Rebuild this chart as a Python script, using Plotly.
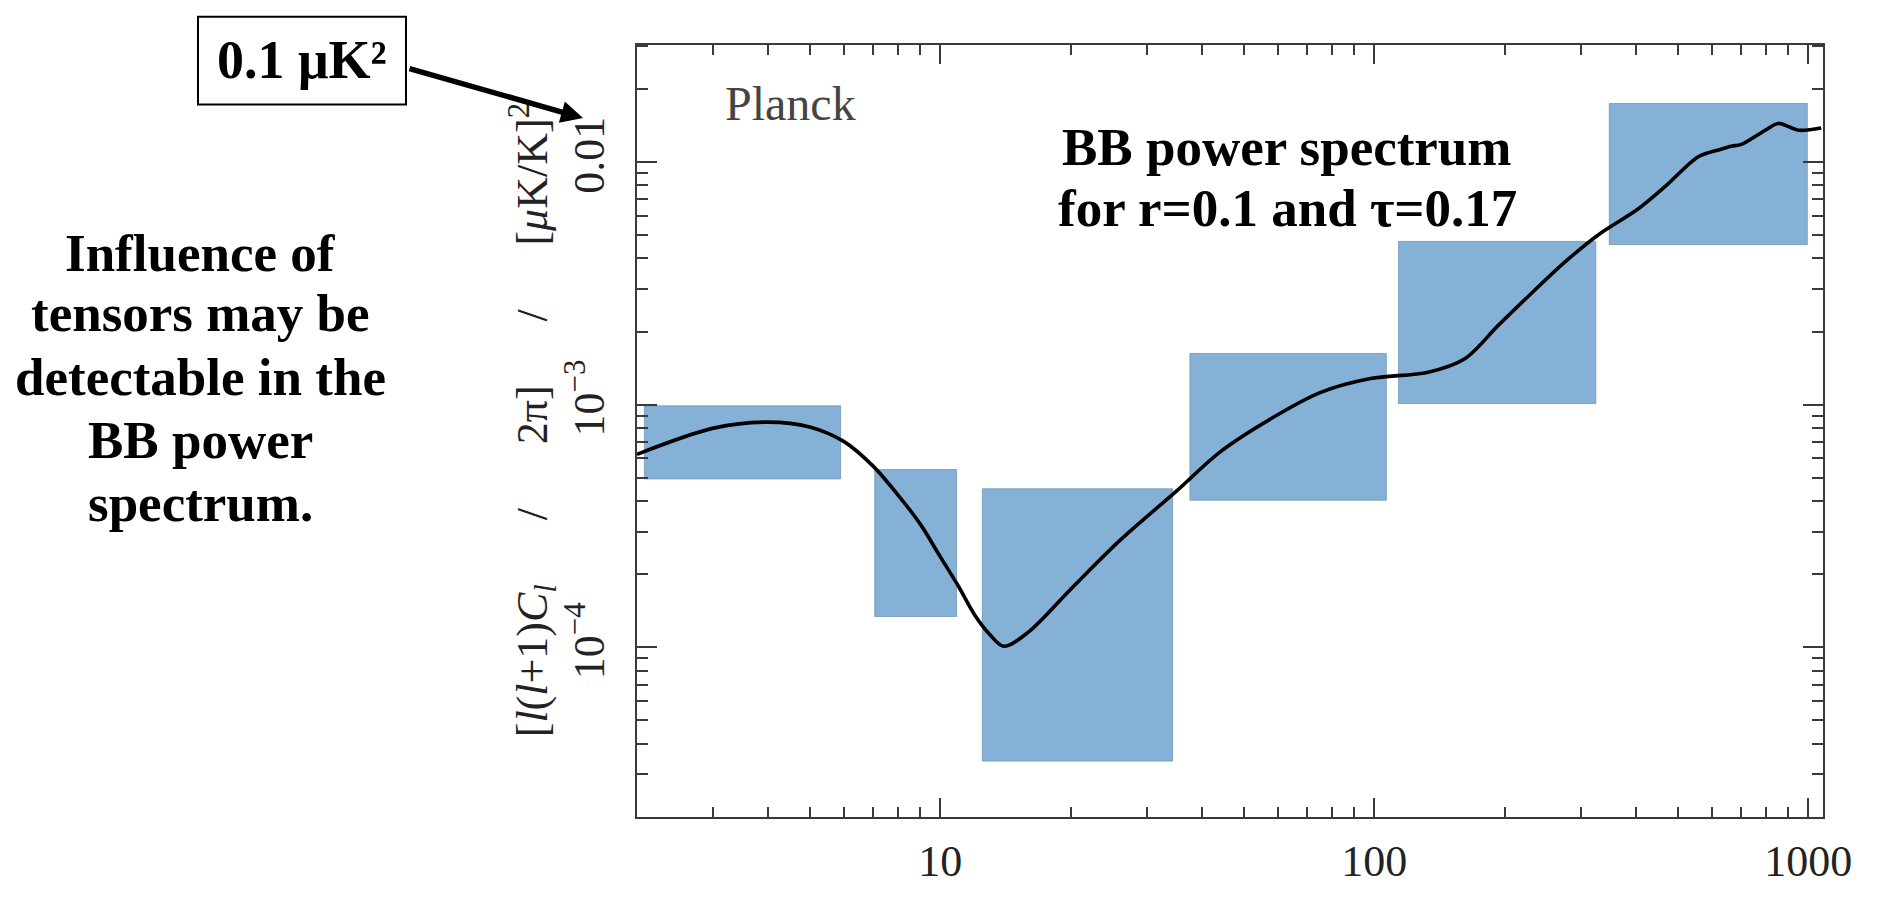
import numpy as np
import plotly.graph_objects as go

# Multipole moment and the BB spectrum l(l+1)C_l/2π in (μK/K)^2
ell = [2, 3, 4, 5, 6, 7, 8, 9, 10, 11, 12, 13, 14, 16, 20, 26, 35, 44, 58,
       75, 98, 133, 162, 193, 230, 276, 328, 406, 469, 558, 621, 665, 701,
       796, 853, 949, 1071]
bb_power = [6.24e-4, 8.0e-4, 8.47e-4, 8.09e-4, 7.04e-4, 5.58e-4, 4.23e-4,
            3.21e-4, 2.36e-4, 1.79e-4, 1.36e-4, 1.13e-4, 1.01e-4, 1.16e-4,
            1.74e-4, 2.77e-4, 4.40e-4, 6.36e-4, 8.78e-4, 1.12e-3, 1.28e-3,
            1.36e-3, 1.55e-3, 2.12e-3, 2.87e-3, 3.89e-3, 5.0e-3, 6.41e-3,
            7.94e-3, 1.05e-2, 1.12e-2, 1.16e-2, 1.18e-2, 1.35e-2, 1.44e-2,
            1.35e-2, 1.38e-2]

# Planck sensitivity bands: multipole bin edges and error box limits
bin_lo = [2.08, 7.06, 12.5, 37.6, 113.7, 348]
bin_hi = [5.89, 10.9, 34.3, 106.6, 324, 995]
band_lo = [4.94e-4, 1.34e-4, 3.4e-5, 4.04e-4, 1.01e-3, 4.56e-3]
band_hi = [9.88e-4, 5.4e-4, 4.5e-4, 1.624e-3, 4.7e-3, 1.74e-2]

# Axis ticks
x_major = [10, 100, 1000]
x_major_text = ["10", "100", "1000"]
y_major = [1e-4, 1e-3, 1e-2]
y_major_text = ["10<sup>\u22124</sup>", "10<sup>\u22123</sup>", "0.01"]

W, H = 1881, 898
L, R, T, B = 637, 58, 45, 61
PW, PH = W - L - R, H - T - B


def paper_x(px):
    return (px - L) / PW


def paper_y(py):
    return (H - B - py) / PH


SERIF = "Liberation Serif"
BOX_BLUE = "#85b1d6"
AXIS = "#3a3a3a"

fig = go.Figure()

for lo, hi, ylo, yhi in zip(bin_lo, bin_hi, band_lo, band_hi):
    fig.add_trace(go.Scatter(
        x=[lo, hi, hi, lo, lo], y=[ylo, ylo, yhi, yhi, ylo],
        mode="lines", fill="toself", fillcolor=BOX_BLUE,
        line=dict(color="rgba(115,150,180,0.8)", width=1),
        hoverinfo="skip", showlegend=False))

fig.add_trace(go.Scatter(
    x=ell, y=bb_power, mode="lines",
    line=dict(color="black", width=3.6, shape="spline", smoothing=0.9),
    showlegend=False))

x_minor = [m * 10 ** d for d in range(0, 3) for m in range(2, 10) if m * 10 ** d >= 3]
y_minor = [m * 10 ** d for d in range(-5, -1) for m in range(2, 10)]

fig.update_xaxes(
    type="log", range=[np.log10(2), 3.034],
    tickvals=x_major, ticktext=x_major_text,
    ticks="inside", ticklen=19, tickwidth=1.5, tickcolor=AXIS,
    showline=True, linecolor=AXIS, linewidth=1.5, mirror="allticks",
    showgrid=False, zeroline=False, ticklabelstandoff=4,
    tickfont=dict(family=SERIF, size=44, color="#222"),
    minor=dict(tickmode="array", tickvals=x_minor, ticks="inside",
               ticklen=10, tickwidth=1.5, tickcolor=AXIS, showgrid=False),
)
fig.update_yaxes(
    type="log", range=[np.log10(2e-5), np.log10(0.0303)],
    tickvals=y_major, ticktext=y_major_text, tickangle=-90,
    ticks="inside", ticklen=20, tickwidth=1.5, tickcolor=AXIS,
    showline=True, linecolor=AXIS, linewidth=1.5, mirror="allticks",
    showgrid=False, zeroline=False, ticklabelstandoff=14,
    tickfont=dict(family=SERIF, size=44, color="#222"),
    minor=dict(tickmode="array", tickvals=y_minor, ticks="inside",
               ticklen=11, tickwidth=1.5, tickcolor=AXIS, showgrid=False),
)

nb = "\u00a0"
gap = nb * 5 + "\u2009"
y_title = (f"[<i>l</i>(<i>l</i>+1)<i>C</i><sub><i>l</i></sub>{gap}/{gap}2π]"
           f"{gap}/{gap}[<i>μ</i>K/K]<sup>2</sup>")

annotations = [
    dict(text=y_title, x=paper_x(533), y=paper_y(430), textangle=-90,
         font=dict(family=SERIF, size=44, color="#222")),
    dict(text="Planck", x=paper_x(790), y=paper_y(105),
         font=dict(family=SERIF, size=48, color="#444")),
    dict(text="BB power spectrum", x=paper_x(1287), y=paper_y(150),
         font=dict(family=SERIF, size=53, color="black", weight="bold")),
    dict(text="for r=0.1 and τ=0.17", x=paper_x(1287), y=paper_y(212),
         font=dict(family=SERIF, size=53, color="black", weight="bold")),
    dict(text="0.1 μK²", x=paper_x(302), y=paper_y(60),
         font=dict(family=SERIF, size=54, color="black", weight="bold")),
    dict(text="", x=paper_x(583), y=paper_y(120), ax=408 - 583, ay=70 - 120,
         showarrow=True, arrowhead=2, arrowsize=0.8, arrowwidth=5.5,
         arrowcolor="black", standoff=0, startstandoff=0),
]

left_lines = ["Influence of", "tensors may be", "detectable in the",
              "BB power", "spectrum."]
for line, cy in zip(left_lines, [258, 320, 386, 450, 515]):
    annotations.append(dict(text=line, x=paper_x(200), y=paper_y(cy),
                            font=dict(family=SERIF, size=53, color="black",
                                      weight="bold")))

for a in annotations:
    a.setdefault("showarrow", False)
    a.update(xref="paper", yref="paper", xanchor="center", yanchor="middle")

fig.update_layout(
    width=W, height=H,
    margin=dict(l=L, r=R, t=T, b=B, pad=0),
    paper_bgcolor="white", plot_bgcolor="white",
    annotations=annotations,
    shapes=[dict(type="rect", xref="paper", yref="paper",
                 x0=paper_x(198), x1=paper_x(406), y0=paper_y(106), y1=paper_y(16),
                 line=dict(color="black", width=2), fillcolor="rgba(0,0,0,0)")],
)

fig.write_html("out.html")
